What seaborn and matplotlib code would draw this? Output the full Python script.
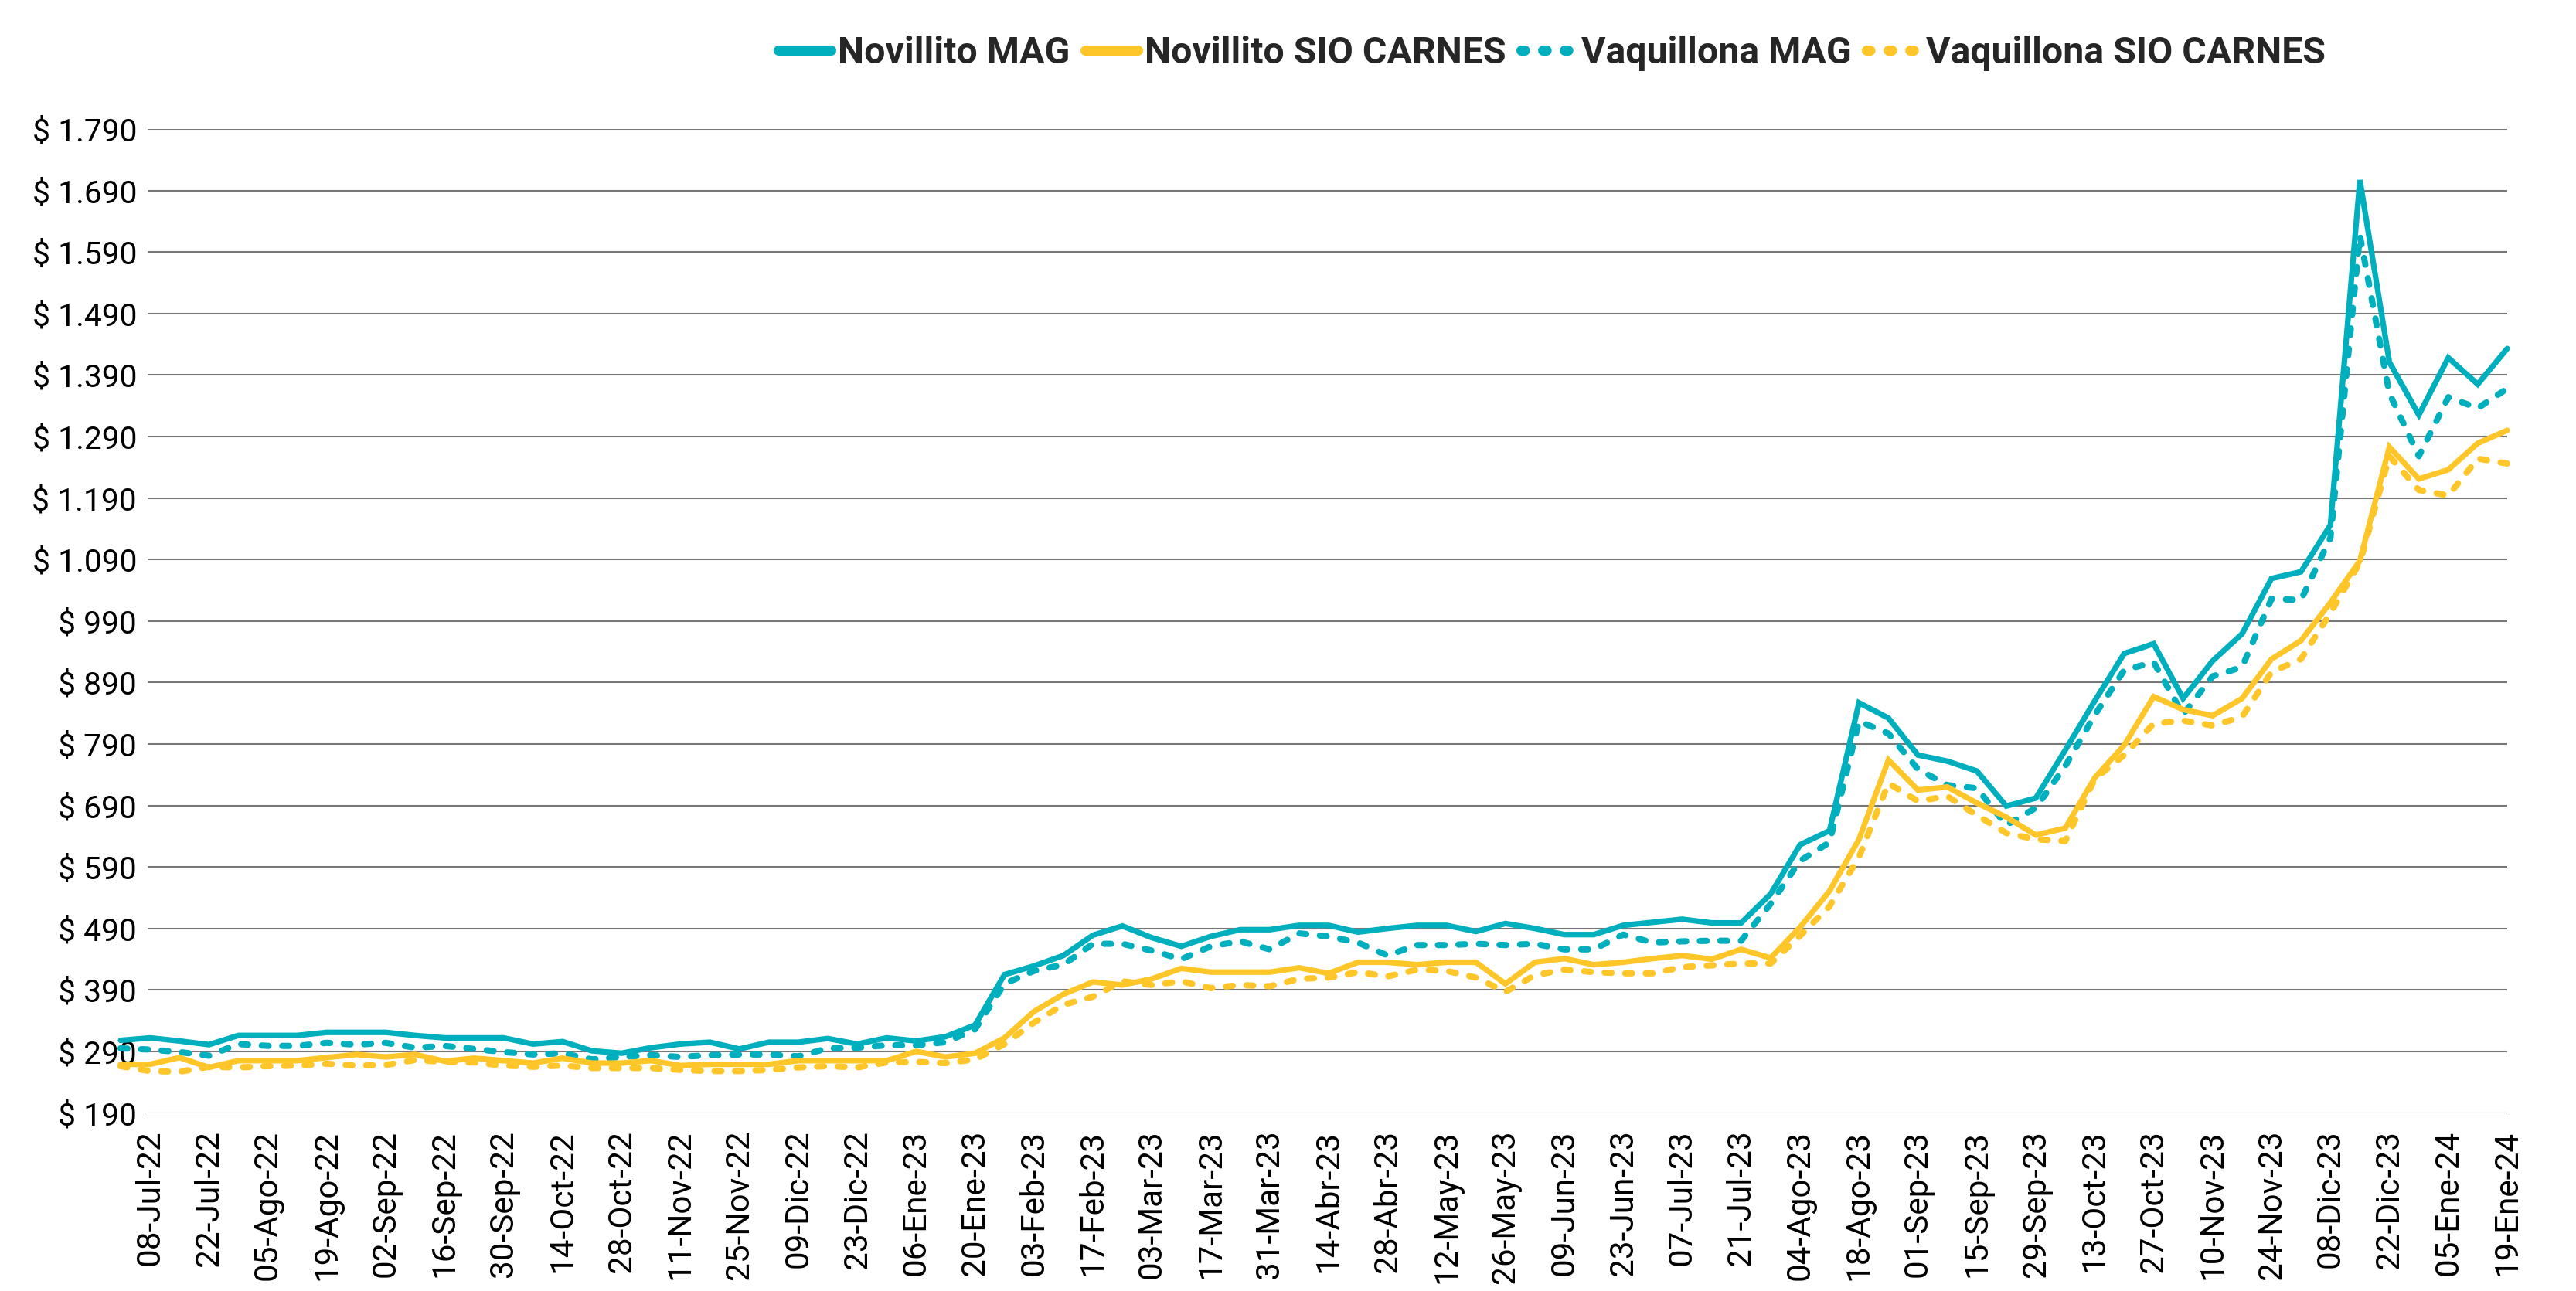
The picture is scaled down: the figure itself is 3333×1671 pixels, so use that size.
import numpy as np
import pandas as pd
import matplotlib
matplotlib.use("Agg")
import matplotlib.pyplot as plt
import seaborn as sns
from matplotlib.ticker import FuncFormatter, FixedLocator
from matplotlib.lines import Line2D

# ---------------- data ----------------
start_date = "2022-07-01"
n_weeks = 82

novillito_mag = [308, 312, 307, 301, 316, 316, 316, 321, 321, 321,
                 316, 312, 312, 312, 302, 306, 291, 287, 296, 302,
                 305, 294, 305, 305, 311, 302, 312, 307, 314, 333,
                 415, 429, 446, 479, 494, 475, 461, 477, 488, 488,
                 495, 495, 484, 490, 495, 495, 485, 498, 490, 480,
                 480, 495, 500, 505, 499, 499, 546, 626, 649, 857,
                 832, 772, 762, 746, 689, 702, 780, 860, 937, 953,
                 864, 925, 969, 1059, 1070, 1146, 1707, 1411, 1325, 1418,
                 1375, 1433]

novillito_sio = [269, 269, 280, 264, 275, 275, 275, 280, 285, 281,
                 285, 274, 279, 275, 271, 279, 271, 271, 275, 267,
                 269, 269, 269, 275, 275, 275, 275, 290, 281, 287,
                 312, 355, 383, 403, 398, 408, 425, 419, 419, 419,
                 426, 417, 435, 435, 431, 435, 435, 400, 435, 441,
                 431, 435, 441, 446, 440, 456, 442, 492, 551, 635,
                 764, 715, 720, 694, 671, 642, 653, 735, 788, 867,
                 846, 836, 864, 928, 958, 1020, 1088, 1273, 1221, 1236,
                 1279, 1300]

vaquillona_mag = [295, 293, 289, 283, 302, 299, 299, 304, 301, 304,
                  296, 299, 294, 289, 285, 287, 277, 281, 284, 281,
                  284, 285, 285, 282, 295, 296, 300, 300, 305, 326,
                  400, 421, 431, 465, 465, 454, 440, 461, 469, 456,
                  482, 477, 467, 446, 463, 463, 465, 463, 465, 456,
                  456, 480, 467, 469, 470, 470, 530, 600, 630, 827,
                  807, 749, 723, 718, 658, 686, 754, 837, 910, 923,
                  838, 900, 915, 1026, 1024, 1125, 1617, 1360, 1258, 1354,
                  1336, 1368]

vaquillona_sio = [266, 258, 257, 265, 264, 266, 267, 270, 267, 268,
                  276, 273, 272, 267, 265, 267, 263, 263, 263, 260,
                  258, 258, 260, 264, 266, 264, 272, 273, 271, 277,
                  302, 337, 366, 379, 404, 398, 404, 393, 398, 396,
                  408, 410, 419, 412, 423, 421, 410, 387, 414, 423,
                  419, 417, 417, 427, 430, 433, 433, 478, 526, 606,
                  726, 697, 705, 674, 645, 635, 632, 733, 772, 823,
                  828, 820, 834, 907, 928, 1003, 1085, 1258, 1203, 1194,
                  1254, 1246]

series_names = ["Novillito MAG", "Novillito SIO CARNES",
                "Vaquillona MAG", "Vaquillona SIO CARNES"]

tick_labels = ["08-Jul-22", "22-Jul-22", "05-Ago-22", "19-Ago-22", "02-Sep-22",
               "16-Sep-22", "30-Sep-22", "14-Oct-22", "28-Oct-22", "11-Nov-22",
               "25-Nov-22", "09-Dic-22", "23-Dic-22", "06-Ene-23", "20-Ene-23",
               "03-Feb-23", "17-Feb-23", "03-Mar-23", "17-Mar-23", "31-Mar-23",
               "14-Abr-23", "28-Abr-23", "12-May-23", "26-May-23", "09-Jun-23",
               "23-Jun-23", "07-Jul-23", "21-Jul-23", "04-Ago-23", "18-Ago-23",
               "01-Sep-23", "15-Sep-23", "29-Sep-23", "13-Oct-23", "27-Oct-23",
               "10-Nov-23", "24-Nov-23", "08-Dic-23", "22-Dic-23", "05-Ene-24",
               "19-Ene-24"]

y_ticks = [190, 290, 390, 490, 590, 690, 790, 890, 990, 1090,
           1190, 1290, 1390, 1490, 1590, 1690, 1790]

# ---------------- styling ----------------
TEAL = "#00AFBE"
YELLOW = "#FFC629"
DOT = (0, (1.1, 2.2))

sns.set_style("white")
plt.rcParams["font.family"] = ["Roboto", "DejaVu Sans"]

dates = pd.date_range(start_date, periods=n_weeks, freq="7D")
df = pd.DataFrame({
    "fecha": np.tile(dates, 4),
    "precio": novillito_mag + novillito_sio + vaquillona_mag + vaquillona_sio,
    "serie": np.repeat(series_names, n_weeks),
})

fig = plt.figure(figsize=(16.665, 8.355), dpi=200)
ax = fig.add_axes([0.0468, 0.13794, 0.9265, 0.76212])
ax.set_xlim(dates[0], dates[-1])
ax.set_ylim(190, 1790)

# horizontal gridlines (start a little right of the series start, as in reference)
for yv in y_ticks:
    ax.axhline(yv, xmin=0.0117, xmax=1.0, color="#777777", linewidth=0.75, zorder=0.5)

styles = {
    "Novillito MAG": dict(color=TEAL, lw=2.6, ls="-"),
    "Novillito SIO CARNES": dict(color=YELLOW, lw=2.6, ls="-"),
    "Vaquillona MAG": dict(color=TEAL, lw=2.9, ls=DOT),
    "Vaquillona SIO CARNES": dict(color=YELLOW, lw=2.9, ls=DOT),
}
for name in ["Vaquillona SIO CARNES", "Vaquillona MAG", "Novillito SIO CARNES", "Novillito MAG"]:
    st = styles[name]
    sub = df[df["serie"] == name]
    sns.lineplot(data=sub, x="fecha", y="precio", ax=ax, color=st["color"],
                 linewidth=st["lw"], linestyle=st["ls"], dash_capstyle="round",
                 solid_capstyle="round", solid_joinstyle="miter", legend=False,
                 clip_on=False, zorder=3)

ax.yaxis.set_major_locator(FixedLocator(y_ticks))
ax.yaxis.set_major_formatter(FuncFormatter(lambda v, p: "$ " + f"{v:,.0f}".replace(",", ".")))

tick_dates = dates[1::2]
ax.set_xticks(tick_dates)
ax.set_xticklabels(tick_labels, rotation=90, fontsize=15.2)
ax.tick_params(axis="x", length=0, pad=8, colors="black")
ax.tick_params(axis="y", length=0, pad=-7.6, labelsize=14.7, colors="black")
for lab in ax.get_yticklabels():
    lab.set_zorder(1)

ax.grid(False)
for s in ["left", "right", "top", "bottom"]:
    ax.spines[s].set_visible(False)
ax.set_xlabel("")
ax.set_ylabel("")

handles = []
for n in series_names:
    st = styles[n]
    ls = "-" if st["ls"] == "-" else (0, (0.35, 1.8))
    handles.append(Line2D([0], [0], color=st["color"], linewidth=4.7, linestyle=ls,
                          dash_capstyle="round", solid_capstyle="round"))
leg = fig.legend(handles, series_names, loc="center", bbox_to_anchor=(0.6025, 0.9587),
                 ncol=4, frameon=False, handlelength=1.4,
                 handletextpad=0.2, columnspacing=0.4,
                 prop={"family": ["Roboto", "DejaVu Sans"], "weight": "bold", "size": 17.4})

fig.savefig("out.png", dpi=200)
